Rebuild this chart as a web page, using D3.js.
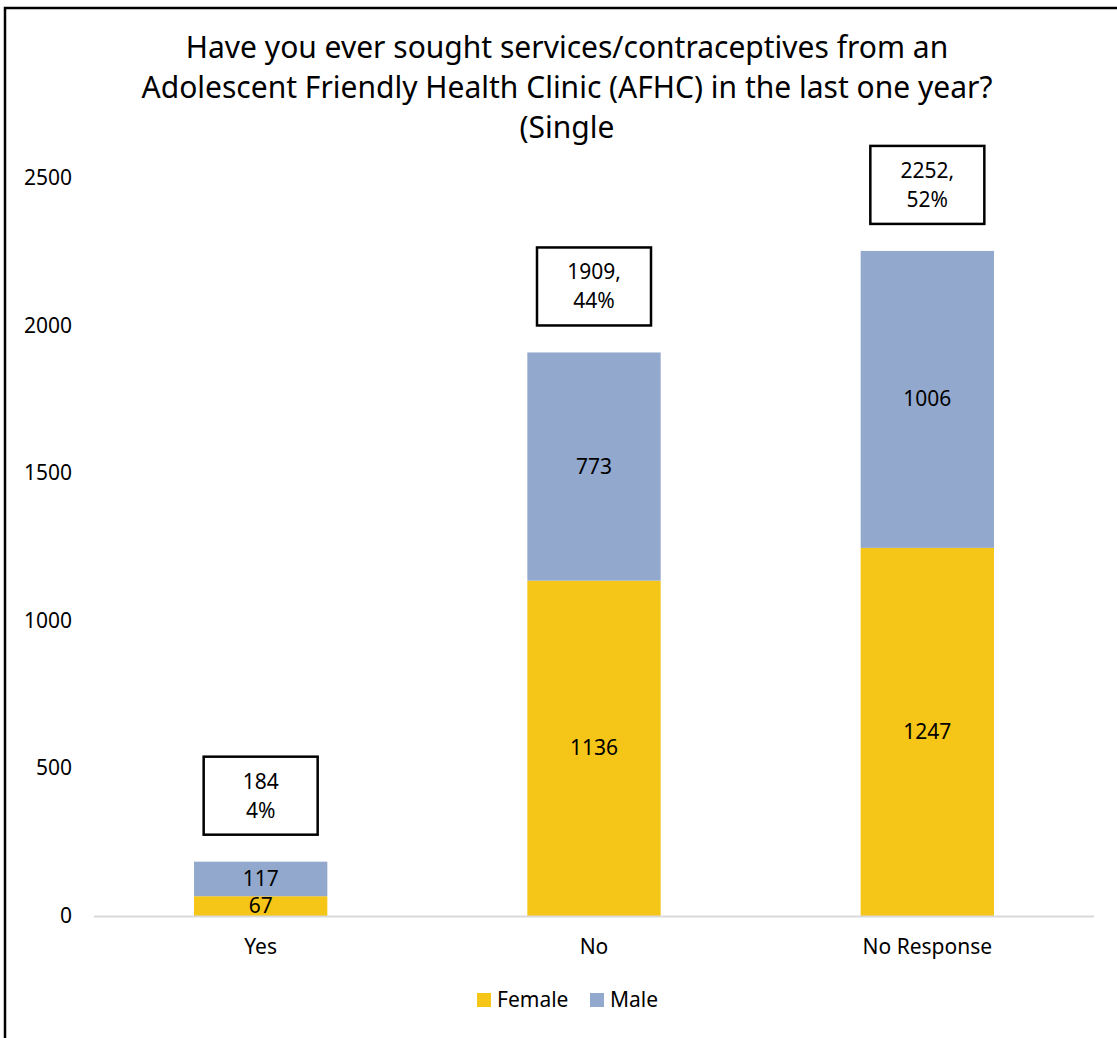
<!DOCTYPE html>
<html>
<head>
<meta charset="utf-8">
<script src="https://cdn.jsdelivr.net/npm/d3@7"></script>
<style>
  body { margin: 0; background: #fff; }
  text { font-family: "Noto Sans", sans-serif; fill: #000; }
</style>
</head>
<body>
<svg id="chart" width="1117" height="1038"></svg>
<script>
// data
const categories = ["Yes", "No", "No Response"];
const female = [67, 1136, 1247];
const male = [117, 773, 1006];
const totalLabels = [["184", "4%"], ["1909,", "44%"], ["2252,", "52%"]];
const seriesNames = ["Female", "Male"];
const yTicks = [0, 500, 1000, 1500, 2000, 2500];
const titleLines = [
  "Have you ever sought services/contraceptives from an",
  "Adolescent Friendly Health Clinic (AFHC) in the last one year?",
  "(Single"
];

const colors = { Female: "#F5C518", Male: "#92A8CD" };

const svg = d3.select("#chart");
const margin = { top: 178, right: 23, bottom: 122, left: 94 };
const W = 1117, H = 1038;

// frame (left + top only)
svg.append("path")
  .attr("d", `M5,1038 V8 H1117`)
  .attr("fill", "none")
  .attr("stroke", "#000")
  .attr("stroke-width", 2.5);

// title
svg.append("g").selectAll("text")
  .data(titleLines)
  .enter().append("text")
  .attr("x", 567)
  .attr("y", (d, i) => 58 + i * 40)
  .attr("text-anchor", "middle")
  .style("font-size", "30px")
  .text(d => d);

const x = d3.scaleBand()
  .domain(categories)
  .range([margin.left, W - margin.right])
  .paddingInner(0.6)
  .paddingOuter(0.3);

const y = d3.scaleLinear()
  .domain([0, 2500])
  .range([H - margin.bottom, margin.top]);

// y tick labels (no axis line)
svg.append("g").selectAll("text")
  .data(yTicks)
  .enter().append("text")
  .attr("x", 72)
  .attr("y", d => y(d) + 7)
  .attr("text-anchor", "end")
  .style("font-size", "21px")
  .text(d => d);

// stack
const rows = categories.map((c, i) => ({ cat: c, Female: female[i], Male: male[i] }));
const stacked = d3.stack().keys(seriesNames)(rows);

const layers = svg.append("g").selectAll("g")
  .data(stacked)
  .enter().append("g")
  .attr("fill", d => colors[d.key]);

layers.selectAll("rect")
  .data(d => d)
  .enter().append("rect")
  .attr("x", d => x(d.data.cat))
  .attr("width", x.bandwidth())
  .attr("y", d => y(d[1]))
  .attr("height", d => y(d[0]) - y(d[1]));

layers.selectAll("text")
  .data(d => d)
  .enter().append("text")
  .attr("x", d => x(d.data.cat) + x.bandwidth() / 2)
  .attr("y", d => (y(d[0]) + y(d[1])) / 2 + 7)
  .attr("text-anchor", "middle")
  .style("font-size", "21px")
  .style("fill", "#000")
  .text(d => d[1] - d[0]);

// baseline
svg.append("line")
  .attr("x1", margin.left)
  .attr("x2", W - margin.right)
  .attr("y1", y(0) + 0.5)
  .attr("y2", y(0) + 0.5)
  .attr("stroke", "#d9d9d9")
  .attr("stroke-width", 2);

// total boxes
const boxW = 114, boxH = 78;
const boxes = svg.append("g").selectAll("g")
  .data(categories)
  .enter().append("g")
  .attr("transform", (c, i) => {
    const cx = x(c) + x.bandwidth() / 2;
    const top = y(female[i] + male[i]) - 27 - boxH;
    return `translate(${cx - boxW / 2},${top})`;
  });

boxes.append("rect")
  .attr("width", boxW)
  .attr("height", boxH)
  .attr("fill", "#fff")
  .attr("stroke", "#000")
  .attr("stroke-width", 2.5);

boxes.selectAll("text")
  .data((c, i) => totalLabels[i])
  .enter().append("text")
  .attr("x", boxW / 2)
  .attr("y", (d, j) => 32 + j * 29)
  .attr("text-anchor", "middle")
  .style("font-size", "21px")
  .text(d => d);

// category labels
svg.append("g").selectAll("text")
  .data(categories)
  .enter().append("text")
  .attr("x", c => x(c) + x.bandwidth() / 2)
  .attr("y", y(0) + 38)
  .attr("text-anchor", "middle")
  .style("font-size", "21px")
  .text(d => d);

// legend
const legend = svg.append("g").attr("transform", "translate(477,993)");
const legX = [0, 113];
seriesNames.forEach((s, i) => {
  const g = legend.append("g").attr("transform", `translate(${legX[i]},0)`);
  g.append("rect").attr("width", 14).attr("height", 14).attr("fill", colors[s]);
  g.append("text").attr("x", 20).attr("y", 14).style("font-size", "21px").text(s);
});
</script>
</body>
</html>
